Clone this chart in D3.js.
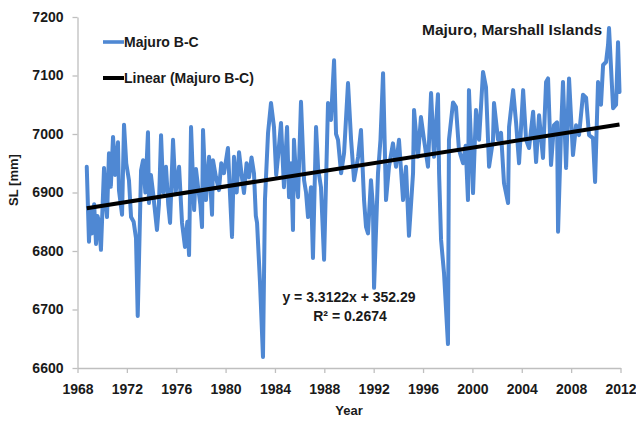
<!DOCTYPE html>
<html>
<head>
<meta charset="utf-8">
<script src="https://cdn.jsdelivr.net/npm/d3@7"></script>
<style>
  html, body { margin: 0; padding: 0; background: #fff; }
  svg { display: block; font-family: "Liberation Sans", Arial, sans-serif; }
  .lbl { font-weight: bold; fill: #1a1a1a; }
</style>
</head>
<body>
<svg id="chart" width="636" height="421"></svg>
<script>
// Monthly-resolution sea level record at Majuro (decimal year, mm)
const years = [
  1968.75, 1968.93, 1969.05, 1969.17, 1969.35, 1969.50, 1969.62, 1969.74, 1969.90, 1970.15,
  1970.30, 1970.39, 1970.55, 1970.70, 1970.88, 1971.05, 1971.28, 1971.36, 1971.61, 1971.77,
  1971.95, 1972.17, 1972.34, 1972.55, 1972.74, 1972.88, 1973.15, 1973.31, 1973.50, 1973.71,
  1973.79, 1973.95, 1974.12, 1974.44, 1974.60, 1974.77, 1974.95, 1975.17, 1975.35, 1975.50,
  1975.74, 1975.95, 1976.23, 1976.47, 1976.71, 1976.90, 1977.04, 1977.20, 1977.45, 1977.60,
  1977.77, 1977.95, 1978.09, 1978.17, 1978.41, 1978.66, 1978.80, 1978.90, 1978.98, 1979.22,
  1979.46, 1979.65, 1979.87, 1980.19, 1980.35, 1980.52, 1980.68, 1980.90, 1981.09, 1981.30,
  1981.49, 1981.70, 1981.90, 1982.10, 1982.30, 1982.45, 1982.55, 1982.79, 1983.03, 1983.19,
  1983.44, 1983.68, 1983.92, 1984.10, 1984.25, 1984.49, 1984.73, 1984.98, 1985.14, 1985.30,
  1985.46, 1985.54, 1985.70, 1985.87, 1986.11, 1986.36, 1986.52, 1986.68, 1986.92, 1987.08,
  1987.33, 1987.50, 1987.73, 1987.98, 1988.30, 1988.54, 1988.79, 1988.95, 1989.11, 1989.36,
  1989.60, 1989.92, 1990.17, 1990.41, 1990.74, 1990.97, 1991.22, 1991.38, 1991.54, 1991.78,
  1991.94, 1992.03, 1992.35, 1992.55, 1992.76, 1993.00, 1993.24, 1993.56, 1993.81, 1994.05,
  1994.38, 1994.62, 1994.86, 1995.19, 1995.27, 1995.59, 1995.83, 1996.08, 1996.40, 1996.65,
  1996.89, 1997.21, 1997.30, 1997.46, 1997.70, 1998.02, 1998.10, 1998.43, 1998.67, 1998.91,
  1999.24, 1999.45, 1999.64, 1999.72, 2000.05, 2000.29, 2000.54, 2000.86, 2001.10, 2001.35,
  2001.67, 2001.75, 2002.08, 2002.32, 2002.56, 2002.89, 2002.97, 2003.30, 2003.54, 2003.78,
  2004.11, 2004.35, 2004.59, 2004.92, 2005.16, 2005.40, 2005.72, 2005.97, 2006.13, 2006.37,
  2006.61, 2006.86, 2006.94, 2007.18, 2007.34, 2007.59, 2007.83, 2008.15, 2008.40, 2008.64,
  2008.96, 2009.21, 2009.45, 2009.77, 2009.94, 2010.18, 2010.42, 2010.59, 2010.83, 2010.99,
  2011.07, 2011.40, 2011.64, 2011.80, 2011.92
];
const seaLevel = [
  6944, 6816, 6870, 6830, 6880, 6812, 6860, 6850, 6802, 6942,
  6880, 6858, 6967, 6910, 6995, 6930, 6986, 6904, 6862, 7016,
  6950, 6921, 6858, 6850, 6822, 6689, 6938, 6955, 6900, 7003,
  6882, 6930, 6900, 6836, 6880, 6998, 6900, 6944, 6880, 6848,
  6990, 6900, 6944, 6848, 6807, 6850, 6793, 7012, 6870, 6940,
  6909, 6880, 6841, 7007, 6887, 6961, 6900, 6862, 6955, 6926,
  6904, 6950, 6933, 6976, 6900, 6824, 6961, 6900, 6969, 6930,
  6899, 6950, 6926, 6960, 6933, 6860, 6848, 6745, 6619, 6887,
  7002, 7053, 7012, 6930, 6961, 7019, 6909, 7012, 6892, 6950,
  6836, 6990, 6930, 6892, 7055, 6921, 6900, 6858, 6909, 6788,
  7012, 6940, 6909, 6785, 7053, 7024, 7126, 7000, 6990, 6933,
  6967, 7087, 6990, 6921, 6961, 7007, 6887, 6841, 6830, 6921,
  6876, 6737, 6933, 6990, 7104, 6887, 6944, 6984, 6944, 6990,
  6887, 6944, 6826, 6933, 7041, 6961, 7029, 6990, 6944, 7070,
  6961, 7068, 6933, 6819, 6762, 6641, 6990, 7054, 7046, 6973,
  6950, 6980, 6887, 7075, 6899, 7041, 6990, 7106, 7080, 6944,
  6990, 7053, 6990, 7002, 6916, 6882, 7012, 7075, 7019, 6950,
  7075, 6990, 6976, 7038, 6952, 7032, 6959, 7089, 7095, 6947,
  7015, 7020, 6833, 7003, 7089, 6942, 7095, 6964, 7015, 6998,
  7067, 7062, 6998, 6993, 6918, 7089, 7050, 7118, 7123, 7152,
  7181, 7044, 7050, 7157, 7072
];

// Linear trend fitted to the record
const trendSlope = 3.3122;
const trendIntercept = 352.29;
const trendLabel = "y = 3.3122x + 352.29";
const r2Label = "R\u00B2 = 0.2674";

const xTicks = [1968, 1972, 1976, 1980, 1984, 1988, 1992, 1996, 2000, 2004, 2008, 2012];
const yTicks = [6600, 6700, 6800, 6900, 7000, 7100, 7200];

const seriesName = "Majuro B-C";
const trendName = "Linear (Majuro B-C)";
const titleText = "Majuro, Marshall Islands";
const xTitle = "Year";
const yTitle = "SL [mm]";

const svg = d3.select("#chart");
const x = d3.scaleLinear().domain([1968, 2012]).range([77.5, 620.5]);
const y = d3.scaleLinear().domain([6600, 7200]).range([368, 17]);

const axisColor = "#bfbfbf";
const blue = "#4f88d3";

// Axes
const gx = svg.append("g")
  .attr("transform", `translate(0,${y(6600)})`)
  .call(d3.axisBottom(x).tickValues(xTicks).tickFormat(d3.format("d")).tickSize(5).tickSizeOuter(0));
const gy = svg.append("g")
  .attr("transform", `translate(${x(1968)},0)`)
  .call(d3.axisLeft(y).tickValues(yTicks).tickFormat(d3.format("d")).tickSize(5).tickSizeOuter(0));

[gx, gy].forEach(g => {
  g.select(".domain").attr("stroke", axisColor).attr("stroke-width", 1.3);
  g.selectAll(".tick line").attr("stroke", axisColor).attr("stroke-width", 1.3);
  g.selectAll(".tick text")
    .attr("fill", "#1a1a1a")
    .style("font-size", "14px")
    .style("font-weight", "bold")
    .style("font-family", "'Liberation Sans', Arial, sans-serif");
});
gx.selectAll(".tick text").attr("dy", "1.25em");
gy.selectAll(".tick text").attr("x", -14);

// Data series
const data = years.map((yr, i) => ({ yr, v: seaLevel[i] }));
const line = d3.line().x(d => x(d.yr)).y(d => y(d.v));
svg.append("path")
  .datum(data)
  .attr("fill", "none")
  .attr("stroke", blue)
  .attr("stroke-width", 4)
  .attr("stroke-linejoin", "round")
  .attr("stroke-linecap", "round")
  .attr("d", line);

// Trend line across the span of the record
const x0 = years[0], x1 = years[years.length - 1];
const trend = [x0, x1].map(yr => ({ yr, v: trendSlope * yr + trendIntercept }));
svg.append("path")
  .datum(trend)
  .attr("fill", "none")
  .attr("stroke", "#000")
  .attr("stroke-width", 4)
  .attr("d", line);

// Titles
svg.append("text").attr("class", "lbl")
  .attr("x", 512).attr("y", 35)
  .attr("text-anchor", "middle")
  .style("font-size", "15.5px")
  .text(titleText);

svg.append("text").attr("class", "lbl")
  .attr("x", x(1990)).attr("y", 415)
  .attr("text-anchor", "middle")
  .style("font-size", "13px")
  .text(xTitle);

svg.append("text").attr("class", "lbl")
  .attr("transform", "translate(18,180) rotate(-90)")
  .attr("text-anchor", "middle")
  .style("font-size", "13px")
  .text(yTitle);

// Equation and fit quality
svg.append("text").attr("class", "lbl")
  .attr("x", 349).attr("y", 302)
  .attr("text-anchor", "middle")
  .style("font-size", "14px")
  .text(trendLabel);
svg.append("text").attr("class", "lbl")
  .attr("x", 350).attr("y", 321)
  .attr("text-anchor", "middle")
  .style("font-size", "14px")
  .text(r2Label);

// Legend
const legend = [
  { name: seriesName, color: blue, y: 42, w: 3.6 },
  { name: trendName, color: "#000", y: 78, w: 4 }
];
const lg = svg.append("g");
lg.selectAll("line").data(legend).join("line")
  .attr("x1", 103).attr("x2", 124)
  .attr("y1", d => d.y).attr("y2", d => d.y)
  .attr("stroke", d => d.color)
  .attr("stroke-width", d => d.w);
lg.selectAll("text").data(legend).join("text")
  .attr("class", "lbl")
  .attr("x", 124).attr("y", d => d.y + 5)
  .style("font-size", "14px")
  .text(d => d.name);
</script>
</body>
</html>
